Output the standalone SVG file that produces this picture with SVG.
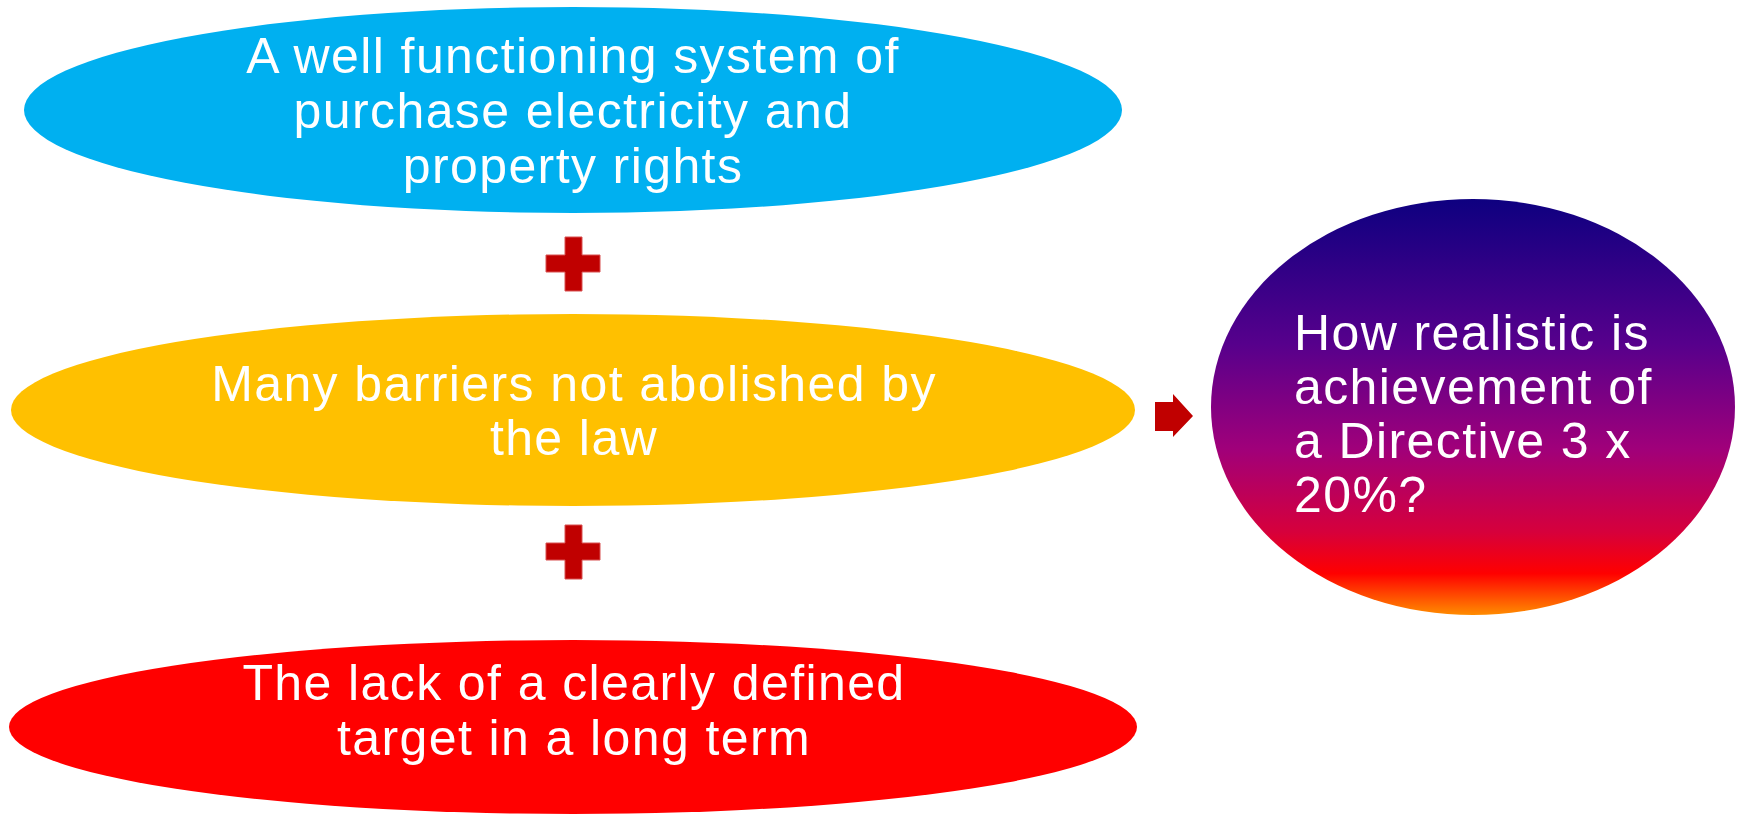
<svg xmlns="http://www.w3.org/2000/svg" width="1740" height="816" viewBox="0 0 1740 816">
<defs>
<linearGradient id="g" x1="0" y1="0" x2="0" y2="1">
<stop offset="0" stop-color="#0E0080"/>
<stop offset="0.35" stop-color="#57008C"/>
<stop offset="0.6" stop-color="#A0007A"/>
<stop offset="0.8" stop-color="#D6003C"/>
<stop offset="0.9" stop-color="#FF0000"/>
<stop offset="1" stop-color="#FF8C00"/>
</linearGradient>
</defs>
<style>
text{font-family:"Liberation Sans",Arial,sans-serif;fill:#fff;font-size:50px;letter-spacing:1.4px}
.c{text-anchor:middle}
.plus{fill:#C00000;stroke:#D85050;stroke-width:1}
</style>
<g id="connectors">
<polygon points="1155,402 1173,402 1173,394 1193,416 1173,437 1173,431 1155,431" fill="#C00000"/>
<g id="plus1" class="plus"><path d="M565,237 H582 V255 H600 V272 H582 V291 H565 V272 H546 V255 H565 Z"/></g>
<g id="plus2" class="plus"><path d="M565,525 H582 V543 H600 V560 H582 V579 H565 V560 H546 V543 H565 Z"/></g>
</g>
<g id="node-blue">
<ellipse cx="573" cy="110" rx="549" ry="103" fill="#00B0F0"/>
<text class="c" x="573" y="73">A well functioning system of</text>
<text class="c" x="573" y="128">purchase electricity and</text>
<text class="c" x="573" y="183">property rights</text>
</g>
<g id="node-yellow">
<ellipse cx="573" cy="410" rx="562" ry="96" fill="#FFC000"/>
<text class="c" x="574" y="401">Many barriers not abolished by</text>
<text class="c" x="574" y="455">the law</text>
</g>
<g id="node-red">
<ellipse cx="573" cy="727" rx="564" ry="87" fill="#FF0000"/>
<text class="c" x="574" y="700">The lack of a clearly defined</text>
<text class="c" x="574" y="755">target in a long term</text>
</g>
<g id="node-question">
<ellipse cx="1473" cy="407" rx="262" ry="208" fill="url(#g)"/>
<text x="1294" y="350">How realistic is</text>
<text x="1294" y="404">achievement of</text>
<text x="1294" y="458">a Directive 3 x</text>
<text x="1294" y="512">20%?</text>
</g>
</svg>
